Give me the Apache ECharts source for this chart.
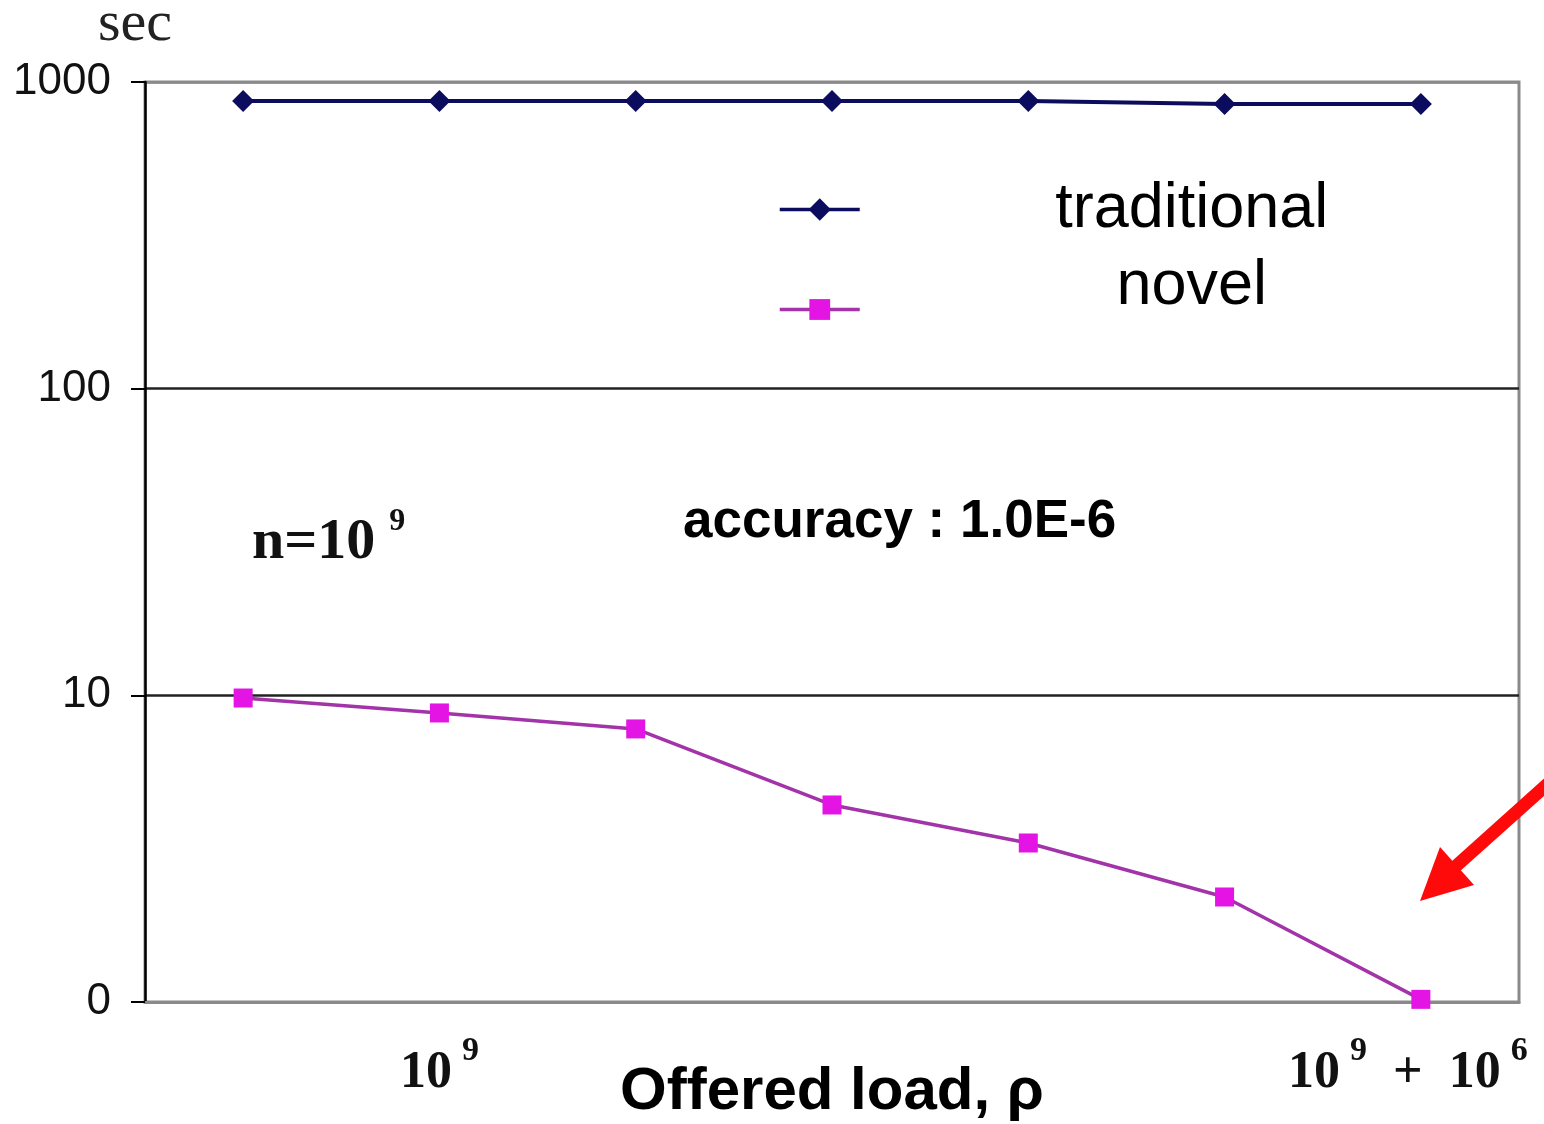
<!DOCTYPE html>
<html>
<head>
<meta charset="utf-8">
<script src="https://cdn.jsdelivr.net/npm/echarts@6/dist/echarts.min.js"></script>
<style>
html,body{margin:0;padding:0;background:#fff;}
#chart{width:1544px;height:1124px;}
</style>
</head>
<body>
<div id="chart"></div>
<script>
const categories = ['p1', 'p2', 'p3', 'p4', 'p5', 'p6', 'p7'];
const xTickLabels = ['', '10^9', '', '', '', '', '10^9 + 10^6'];
const traditional = [867, 867, 867, 867, 867, 848, 848];
const novel = [9.8, 8.76, 7.77, 4.39, 3.3, 2.2, 1.02];
const yTicks = [1, 10, 100, 1000];
const yTickText = ['0', '10', '100', '1000'];

const serif = '"Liberation Serif", "DejaVu Serif", serif';
const sans = '"Liberation Sans", Arial, sans-serif';

function xLabel(value, idx) {
  const t = xTickLabels[idx];
  if (!t) return '';
  if (t === '10^9') return '{b|10}{s|9}';
  return '{b|10}{s|9}{b|  +  10}{s|6}{e|}';
}

const chart = echarts.init(document.getElementById('chart'));
chart.setOption({
  animation: false,
  backgroundColor: '#fff',
  grid: {left: 145, right: 25, top: 82, bottom: 122, containLabel: false, outerBoundsMode: 'none',
         show: true, borderColor: '#8a8a8a', borderWidth: 3, backgroundColor: 'transparent'},
  xAxis: {
    type: 'category',
    data: categories,
    boundaryGap: true,
    axisLine: {lineStyle: {color: '#8a8a8a', width: 3}},
    axisTick: {show: false},
    axisLabel: {
      interval: 0,
      margin: 32,
      formatter: xLabel,
      rich: {
        b: {fontFamily: serif, fontWeight: 'bold', fontSize: 52, color: '#111', lineHeight: 54},
        s: {fontFamily: serif, fontWeight: 'bold', fontSize: 34, color: '#111', padding: [0, 0, 46, 10]},
        e: {width: 26}
      }
    },
    name: 'Offered load, ρ',
    nameLocation: 'middle',
    nameGap: 60,
    nameMoveOverlap: false,
    nameTextStyle: {fontFamily: sans, fontWeight: 'bold', fontSize: 60, color: '#000'}
  },
  yAxis: {
    type: 'log',
    logBase: 10,
    min: 1,
    max: 1000,
    axisLine: {show: true, lineStyle: {color: '#000', width: 2.5}},
    axisTick: {show: true, inside: false, length: 14, lineStyle: {color: '#000', width: 2}},
    axisLabel: {
      margin: 34,
      fontFamily: sans, fontSize: 44, color: '#111',
      formatter: function (v) { const i = yTicks.indexOf(v); return i >= 0 ? yTickText[i] : ''; }
    },
    splitLine: {show: true, lineStyle: {color: ['#8a8a8a', '#222', '#222', '#8a8a8a'], width: 2.5}},
    name: 'sec',
    nameLocation: 'end',
    nameGap: 28,
    nameMoveOverlap: false,
    nameTextStyle: {fontFamily: serif, fontSize: 58, color: '#222', padding: [0, 20, 0, 0]}
  },
  legend: [
    {
      data: ['traditional'],
      left: 773, top: 173,
      itemWidth: 80, itemHeight: 28, itemGap: 0,
      lineStyle: {width: 3.5},
      formatter: '{a|{name}}',
      textStyle: {rich: {a: {fontFamily: sans, fontSize: 63, color: '#000', lineHeight: 60, width: 654, align: 'center'}}}
    },
    {
      data: ['novel'],
      left: 773, top: 250,
      itemWidth: 80, itemHeight: 26, itemGap: 0,
      lineStyle: {width: 3.5},
      formatter: '{a|{name}}',
      textStyle: {rich: {a: {fontFamily: sans, fontSize: 63, color: '#000', lineHeight: 60, width: 654, align: 'center', padding: [0, 0, 46, 0]}}}
    }
  ],
  series: [
    {
      name: 'traditional',
      type: 'line',
      data: traditional,
      symbol: 'diamond',
      symbolSize: [22, 22],
      itemStyle: {color: '#0c0c5e'},
      lineStyle: {color: '#0c0c5e', width: 4},
      z: 3
    },
    {
      name: 'novel',
      type: 'line',
      data: novel,
      symbol: 'rect',
      symbolSize: 19,
      itemStyle: {color: '#e414e4'},
      lineStyle: {color: '#a233a8', width: 3.5},
      z: 3
    }
  ],
  graphic: [
    {
      type: 'text', left: 683, top: 496,
      style: {text: 'accuracy : 1.0E-6', font: 'bold 53px ' + sans, fill: '#000'}
    },
    {
      type: 'text', left: 252, top: 506,
      style: {
        text: '{b|n=10}{s|9}',
        rich: {
          b: {fontFamily: serif, fontWeight: 'bold', fontSize: 58, fill: '#111', lineHeight: 60},
          s: {fontFamily: serif, fontWeight: 'bold', fontSize: 32, fill: '#111', padding: [0, 0, 42, 14]}
        }
      }
    },
    {
      type: 'group',
      children: [
        {type: 'line', shape: {x1: 1552, y1: 780, x2: 1455, y2: 867}, style: {stroke: '#ff0a0a', lineWidth: 13}},
        {type: 'polygon', shape: {points: [[1420, 901], [1440, 847], [1474, 885]]}, style: {fill: '#ff0a0a'}}
      ]
    }
  ]
});
</script>
</body>
</html>
